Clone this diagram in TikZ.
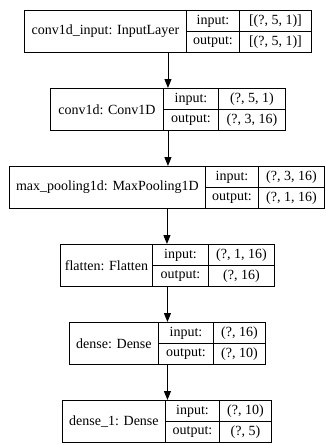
\documentclass[tikz,border=0pt]{standalone}
\usepackage{fontspec}
\setmainfont{Liberation Serif}
\usetikzlibrary{arrows.meta}

\tikzset{
	cell/.style={draw,line width=0.9pt,inner sep=0pt,anchor=north west,
		minimum height=21pt,font=\fontsize{14}{16}\selectfont},
	namecell/.style={cell,minimum height=42pt},
	layerbox/.style={draw,line width=0.9pt,inner sep=0pt,anchor=north west,
		minimum height=42pt},
}

\begin{document}
\begin{tikzpicture}[x=1pt,y=-1pt,>={Triangle[length=9pt,width=7pt]}]
	\useasboundingbox (0,0) rectangle (325,445);
	
	% one record per layer: left edge, two dividers, right edge, top
	\foreach \nm/\xa/\xb/\xc/\xd/\yt/\lab/\vin/\vout in {
		inp/24/186/239/311/10/{conv1d\_input: InputLayer}/{[(?, 5, 1)]}/{[(?, 5, 1)]},
		conv/50/163/218/285/88/{conv1d: Conv1D}/{(?, 5, 1)}/{(?, 3, 16)},
		pool/9/205/258/324/166/{max\_pooling1d: MaxPooling1D}/{(?, 3, 16)}/{(?, 1, 16)},
		flat/60/152/208/274/244/{flatten: Flatten}/{(?, 1, 16)}/{(?, 16)},
		dense/69/158/213/265/322/{dense: Dense}/{(?, 16)}/{(?, 10)},
		dense1/62/165/219/271/400/{dense\_1: Dense}/{(?, 10)}/{(?, 5)}} {
		\node[layerbox,minimum width={(\xd-\xa)*1pt}] (\nm) at (\xa,\yt) {};
		\node[namecell,minimum width={(\xb-\xa)*1pt}] (\nm-name) at (\xa,\yt) {\lab};
		\node[cell,minimum width={(\xc-\xb)*1pt}] (\nm-inkey) at (\xb,\yt) {input:};
		\node[cell,minimum width={(\xc-\xb)*1pt}] (\nm-outkey) at (\xb,\yt+21) {output:};
		\node[cell,minimum width={(\xd-\xc)*1pt}] (\nm-inval) at (\xc,\yt) {\vin};
		\node[cell,minimum width={(\xd-\xc)*1pt}] (\nm-outval) at (\xc,\yt+21) {\vout};
	}
	
	\foreach \a/\b in {inp/conv,conv/pool,pool/flat,flat/dense,dense/dense1} {
		\draw[->,line width=0.9pt] (\a.south) -- (\a.south |- \b.north);
	}
\end{tikzpicture}
\end{document}
